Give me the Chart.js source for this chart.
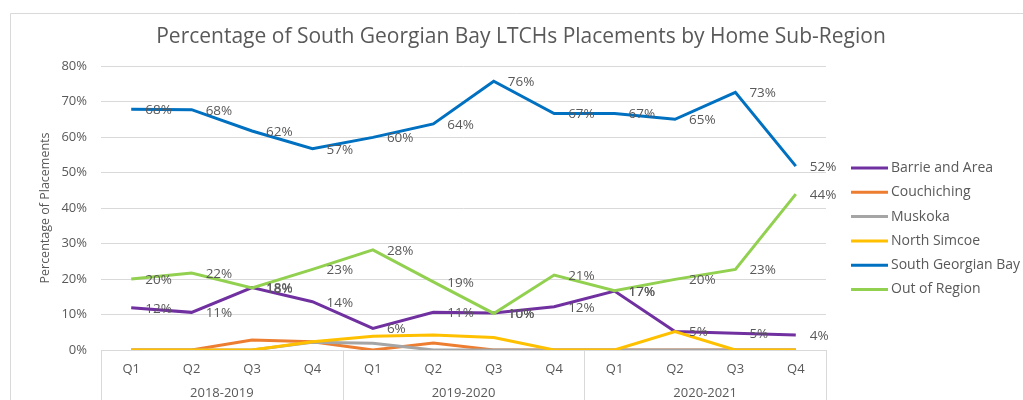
<!DOCTYPE html>
<html>
<head>
<meta charset="utf-8">
<script src="https://cdn.jsdelivr.net/npm/chart.js@4.4.1/dist/chart.umd.min.js"></script>
<style>
  html, body { margin: 0; padding: 0; background: #fff; }
  #wrap { width: 1023px; height: 400px; }
</style>
</head>
<body>
<div id="wrap"><canvas id="myChart" width="1023" height="400"></canvas></div>
<script>
// quarters and fiscal years
var quarters = ['Q1', 'Q2', 'Q3', 'Q4', 'Q1', 'Q2', 'Q3', 'Q4', 'Q1', 'Q2', 'Q3', 'Q4'];
var years = ['2018-2019', '2019-2020', '2020-2021'];
var yTicks = [0, 10, 20, 30, 40, 50, 60, 70, 80];

// percentage of placements
var barrie      = [11.9, 10.6, 17.6, 13.6, 6.1, 10.6, 10.4, 12.2, 16.6, 5.2, 4.7, 4.2];
var couchiching = [0, 0, 2.8, 2.3, 0, 2.0, 0, 0, 0, 0, 0, 0];
var muskoka     = [0, 0, 0, 2.2, 1.9, 0, 0, 0, 0, 0, 0, 0];
var northSimcoe = [0, 0, 0, 2.3, 3.9, 4.2, 3.5, 0, 0, 5.2, 0, 0];
var southGB     = [67.8, 67.7, 61.7, 56.7, 59.9, 63.7, 75.7, 66.6, 66.6, 65.0, 72.6, 51.8];
var outRegion   = [20.0, 21.7, 17.5, 22.7, 28.2, 19.2, 10.3, 21.1, 16.7, 19.9, 22.7, 43.9];

var seriesNames = ['Barrie and Area', 'Couchiching', 'Muskoka', 'North Simcoe', 'South Georgian Bay', 'Out of Region'];
var seriesColors = ['#7030A0', '#ED7D31', '#A5A5A5', '#FFC000', '#0070C0', '#92D050'];
var seriesData = [barrie, couchiching, muskoka, northSimcoe, southGB, outRegion];
var labelled = [true, false, false, false, true, true];

var textColor = '#595959';
var lineGrey = '#D9D9D9';
var fontName = '"Open Sans", sans-serif';

var datasets = seriesNames.map(function (name, i) {
    return {
        label: name,
        data: seriesData[i],
        borderColor: seriesColors[i],
        backgroundColor: seriesColors[i],
        borderWidth: 3,
        pointRadius: 0,
        tension: 0,
        order: seriesNames.length - i,
        showValues: labelled[i]
    };
});

// frame, title, legend, group separators
var decorPlugin = {
    id: 'decor',
    beforeDraw: function (chart) {
        var c = chart.ctx;
        c.save();
        c.strokeStyle = lineGrey;
        c.lineWidth = 1;
        c.beginPath();
        c.moveTo(10.5, 400);
        c.lineTo(10.5, 13.5);
        c.lineTo(1023, 13.5);
        c.stroke();
        c.restore();
    },
    afterDraw: function (chart) {
        var c = chart.ctx;
        var area = chart.chartArea;
        var xs = chart.scales.x;
        c.save();

        // title
        c.fillStyle = textColor;
        c.font = '21px ' + fontName;
        c.textAlign = 'center';
        c.textBaseline = 'middle';
        c.fillText('Percentage of South Georgian Bay LTCHs Placements by Home Sub-Region', 521, 37);

        // category group boxes
        c.strokeStyle = lineGrey;
        c.lineWidth = 1;
        var groupW = (xs.right - xs.left) / years.length;
        for (var k = 0; k <= years.length; k++) {
            var gx = Math.round(xs.left + k * groupW) + 0.5;
            c.beginPath();
            c.moveTo(gx, area.bottom);
            c.lineTo(gx, 400);
            c.stroke();
        }

        // legend
        c.font = '14px ' + fontName;
        c.textAlign = 'left';
        for (var i = 0; i < seriesNames.length; i++) {
            var ly = 168 + i * 24.3;
            c.strokeStyle = seriesColors[i];
            c.lineWidth = 3;
            c.beginPath();
            c.moveTo(851, ly);
            c.lineTo(888, ly);
            c.stroke();
            c.fillStyle = textColor;
            c.fillText(seriesNames[i], 891, ly);
        }
        c.restore();
    },
    afterDatasetsDraw: function (chart) {
        var c = chart.ctx;
        c.save();
        c.fillStyle = textColor;
        c.font = '13.5px ' + fontName;
        c.textAlign = 'left';
        c.textBaseline = 'middle';
        chart.data.datasets.forEach(function (ds, i) {
            if (!ds.showValues) return;
            var meta = chart.getDatasetMeta(i);
            meta.data.forEach(function (pt, j) {
                c.fillText(Math.round(ds.data[j]) + '%', pt.x + 14, pt.y + 1);
            });
        });
        c.restore();
    }
};

document.addEventListener('DOMContentLoaded', function () {
    var ctx = document.getElementById('myChart').getContext('2d');
    new Chart(ctx, {
        type: 'line',
        data: {
            labels: quarters,
            datasets: datasets
        },
        options: {
            responsive: false,
            animation: false,
            layout: {
                padding: { left: 30, top: 66, right: 197, bottom: 0 }
            },
            plugins: {
                legend: { display: false },
                tooltip: { enabled: false }
            },
            scales: {
                y: {
                    min: 0,
                    max: 80,
                    afterBuildTicks: function (scale) {
                        scale.ticks = yTicks.map(function (v) { return { value: v }; });
                    },
                    afterFit: function (scale) { scale.width = 71; },
                    grid: { color: lineGrey, drawTicks: false },
                    border: { display: false },
                    ticks: {
                        color: textColor,
                        font: { family: fontName, size: 13 },
                        padding: 14,
                        callback: function (v) { return v + '%'; }
                    },
                    title: {
                        display: true,
                        text: 'Percentage of Placements',
                        color: textColor,
                        font: { family: fontName, size: 12.5 },
                        padding: { top: 8, bottom: 0 }
                    }
                },
                x: {
                    offset: true,
                    afterFit: function (scale) { scale.height = 25; },
                    grid: { display: false },
                    border: { display: true, color: lineGrey },
                    ticks: {
                        color: textColor,
                        font: { family: fontName, size: 13 },
                        padding: 3,
                        maxRotation: 0,
                        autoSkip: false
                    }
                },
                x2: {
                    type: 'category',
                    labels: years,
                    position: 'bottom',
                    offset: true,
                    afterFit: function (scale) { scale.height = 25; },
                    grid: { display: false },
                    border: { display: false },
                    ticks: {
                        color: textColor,
                        font: { family: fontName, size: 13 },
                        padding: 2,
                        maxRotation: 0,
                        autoSkip: false
                    }
                }
            }
        },
        plugins: [decorPlugin]
    });
});
</script>
</body>
</html>
